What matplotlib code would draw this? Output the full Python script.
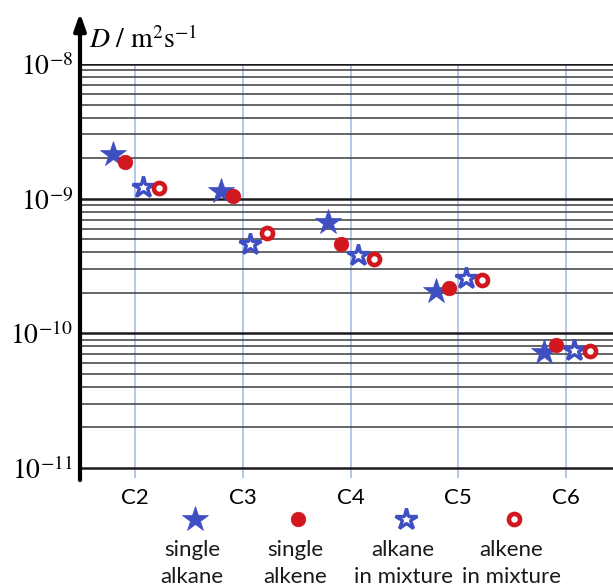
import numpy as np
import matplotlib
matplotlib.use("Agg")
import matplotlib.pyplot as plt

plt.rcParams['mathtext.fontset'] = 'stix'

categories = ["C2", "C3", "C4", "C5", "C6"]
single_alkane = [2.15e-9, 1.15e-9, 6.7e-10, 2.07e-10, 7.24e-11]
single_alkene = [1.88e-9, 1.04e-9, 4.6e-10, 2.18e-10, 8.16e-11]
alkane_mix = [1.23e-9, 4.6e-10, 3.79e-10, 2.59e-10, 7.5e-11]
alkene_mix = [1.21e-9, 5.55e-10, 3.54e-10, 2.5e-10, 7.38e-11]
legend_labels = [("single", "alkane"), ("single", "alkene"), ("alkane", "in mixture"), ("alkene", "in mixture")]
ytick_vals = [1e-11, 1e-10, 1e-9, 1e-8]
ytick_labels = [r"$10^{-11}$", r"$10^{-10}$", r"$10^{-9}$", r"$10^{-8}$"]

BLUE = "#3f4fc2"
RED = "#d0181e"

W, H = 613, 587
fig = plt.figure(figsize=(W / 100, H / 100), dpi=100)
ax = fig.add_axes([80 / W, 1 - 478 / H, (W - 80) / W, (478 - 64) / H])
ax.set_yscale('log')
ax.set_ylim(10 ** -11.074, 1e-8)
ax.set_xlim(-0.511, 4.436)

x = np.arange(len(categories))
styles = [
    (single_alkane, -0.205, dict(marker='*', ms=19, color=BLUE, mec=BLUE, mew=0.5)),
    (single_alkene, -0.09, dict(marker='o', ms=10.5, color=RED, mec=RED, mew=0.5)),
    (alkane_mix, 0.07, dict(marker='*', ms=16, mfc='white', mec=BLUE, mew=2.4)),
    (alkene_mix, 0.22, dict(marker='o', ms=8, mfc='white', mec=RED, mew=3.3)),
]
for vals, off, st in styles:
    ax.plot(x + off, vals, ls='none', zorder=5, clip_on=False, **st)

ax.set_xticks(x)
ax.set_xticklabels(categories, fontsize=16, family='Lato')
ax.set_yticks(ytick_vals)
ax.set_yticklabels(ytick_labels, fontsize=20)
minor_vals = [m * 10.0 ** e for e in (-11, -10, -9) for m in range(2, 10)]
ax.yaxis.set_minor_locator(matplotlib.ticker.FixedLocator(minor_vals))
ax.yaxis.set_minor_formatter(matplotlib.ticker.NullFormatter())
ax.tick_params(axis='both', which='both', length=0)
ax.tick_params(axis='x', pad=7)
ax.tick_params(axis='y', pad=5)

ax.grid(which='major', axis='y', color='#1a1a1a', lw=1.8)
ax.grid(which='minor', axis='y', color='#4a4a4a', lw=1.2)
ax.grid(which='major', axis='x', color='#a8bce8', lw=1.2)
ax.set_axisbelow(True)
for s in ax.spines.values():
    s.set_visible(False)

ax.annotate('', xy=(0, 1 + 51 / 414), xytext=(0, -0.005), xycoords='axes fraction',
            arrowprops=dict(arrowstyle='-|>,head_width=0.35,head_length=1.0', lw=3, color='black',
                            shrinkA=0, shrinkB=0), annotation_clip=False)
fig.text(89 / W, 1 - 40 / H, r"$D\ /\ \mathrm{m}^{2}\mathrm{s}^{-1}$", fontsize=20, va='center', ha='left')

# legend
lax = fig.add_axes([0, 0, 1, 1 - 478 / H])
lax.set_xlim(0, W)
lax.set_ylim(H, 478)
lax.axis('off')
leg_x = [195, 298, 406, 514]
for (vals, off, st), lx, (l1, l2) in zip(styles, leg_x, legend_labels):
    lax.plot([lx], [519], ls='none', **st)
    lax.text(lx - 3, 556, l1, ha='center', va='baseline', fontsize=16, family='Lato', color='#1a1a1a')
    lax.text(lx - 3, 583, l2, ha='center', va='baseline', fontsize=16, family='Lato', color='#1a1a1a')

fig.savefig("out.png", dpi=100)
